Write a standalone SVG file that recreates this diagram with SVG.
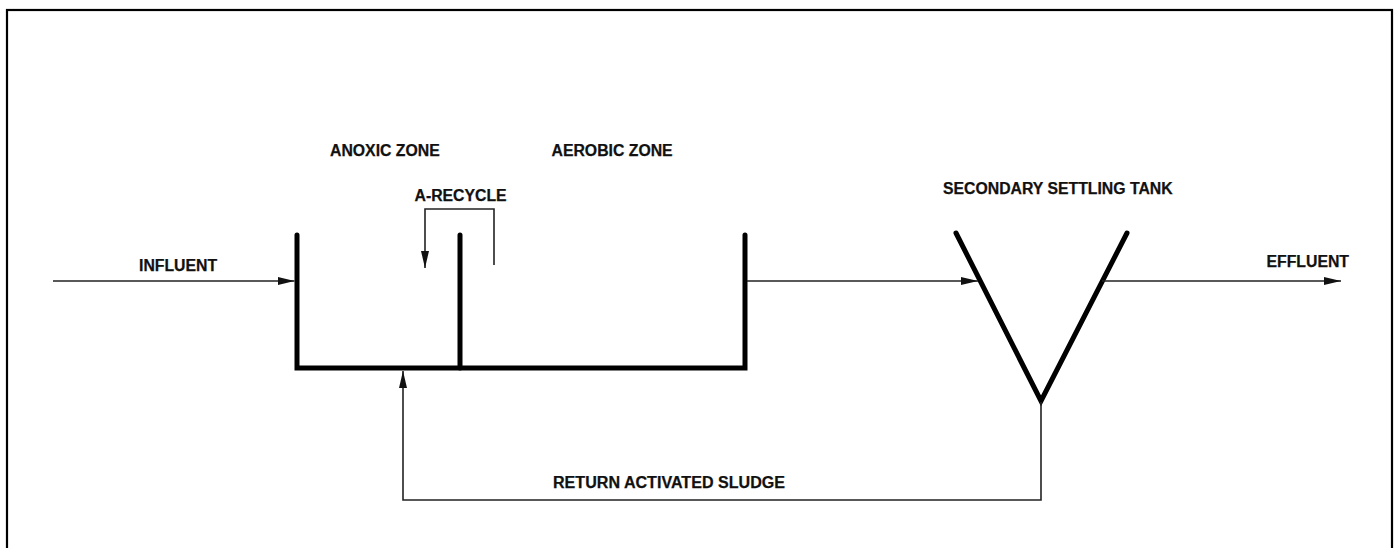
<svg xmlns="http://www.w3.org/2000/svg" width="1396" height="548" viewBox="0 0 1396 548">
  <style>
    .lbl { font-family: "Liberation Sans", Arial, sans-serif; font-weight: bold; font-size: 15.8px; fill: #111; stroke: #111; stroke-width: 0.25; }
    .wall { stroke: #000; stroke-width: 5; stroke-linecap: round; fill: none; }
    .flow { stroke: #222; stroke-width: 1.6; fill: none; }
  </style>
  <defs>
    <marker id="arr" markerUnits="userSpaceOnUse" markerWidth="18" markerHeight="10" refX="17" refY="5" orient="auto">
      <path d="M0,1 L17,5 L0,9 Z" fill="#111"/>
    </marker>
  </defs>
  <rect width="1396" height="548" fill="#fff"/>
  <rect x="7" y="10" width="1385" height="545" fill="none" stroke="#000" stroke-width="2.2"/>

  <g id="basin">
    <path class="wall" d="M297,235 L297,368 L745,368 L745,235"/>
    <line class="wall" x1="460" y1="235" x2="460" y2="368"/>
    <text class="lbl" x="330" y="156">ANOXIC ZONE</text>
    <text class="lbl" x="551.5" y="156">AEROBIC ZONE</text>
  </g>

  <g id="clarifier">
    <path class="wall" d="M956,233 L1041,401 L1127,233" stroke-width="4.5" stroke-linejoin="miter"/>
    <text class="lbl" x="943" y="194">SECONDARY SETTLING TANK</text>
  </g>

  <g id="influent">
    <text class="lbl" x="139" y="271">INFLUENT</text>
  </g>
  <g id="effluent">
    <text class="lbl" x="1266.5" y="267">EFFLUENT</text>
  </g>

  <g id="connectors">
    <line class="flow" x1="53" y1="281" x2="294.5" y2="281" marker-end="url(#arr)"/>
    <line class="flow" x1="747" y1="281" x2="978" y2="281" marker-end="url(#arr)"/>
    <line class="flow" x1="1102" y1="281" x2="1341" y2="281" marker-end="url(#arr)"/>
    <path class="flow" d="M494,265 L494,209 L425,209 L425,268" marker-end="url(#arr)"/>
    <path class="flow" d="M1041,402 L1041,500 L403,500 L403,371" marker-end="url(#arr)"/>
    <text class="lbl" x="414.5" y="201">A-RECYCLE</text>
    <text class="lbl" x="553" y="488" font-size="17px" textLength="232" lengthAdjust="spacingAndGlyphs">RETURN ACTIVATED SLUDGE</text>
  </g>
</svg>
